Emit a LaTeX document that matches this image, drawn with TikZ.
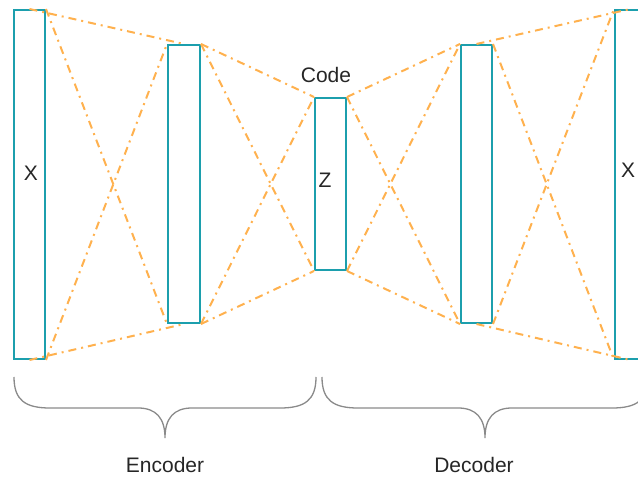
\documentclass[tikz,border=0pt]{standalone}
\usepackage{fontspec}
\setmainfont{Liberation Sans}
\definecolor{layerteal}{HTML}{1C9FAD}
\definecolor{linkorange}{HTML}{FFB14E}
\definecolor{bracegray}{HTML}{8A8A8A}
\begin{document}
\begin{tikzpicture}[x=1pt,y=-1pt,
  layer/.style={draw=layerteal, line width=2pt, fill=none, inner sep=0pt},
  link/.style={draw=linkorange, line width=2pt,
    dash pattern=on 8pt off 5pt on 2pt off 5pt},
  brace/.style={draw=bracegray, line width=1.3pt},
  lbl/.style={font=\fontsize{21}{25}\selectfont, text=black!85, inner sep=0pt}]
\useasboundingbox (0,0) rectangle (638,478);
\clip (0,0) rectangle (638,478);

% layers of the network
\node[layer, minimum width=31pt, minimum height=349pt] (r1) at (29.5,184.5) {};
\node[layer, minimum width=32pt, minimum height=278pt] (r2) at (184,184) {};
\node[layer, minimum width=31pt, minimum height=172pt] (r3) at (330.5,184) {};
\node[layer, minimum width=31pt, minimum height=278pt] (r4) at (476.5,184) {};
\node[layer, minimum width=31pt, minimum height=349pt] (r5) at (630.5,184.5) {};

% labels
\node[lbl] (xin) at (31,173) {X};
\node[lbl] (zc) at (325,180) {Z};
\node[lbl] (xout) at (628,170) {X};
\node[lbl] (code) at (326,75) {Code};

% connections r1 -> r2
\draw[link] (r1.north) -- (r2.north);
\draw[link] (r1.south) -- (r2.south);
\draw[link] (r1.north east) -- (r2.south west);
\draw[link] (r1.south east) -- (r2.north west);
% connections r2 -> r3
\draw[link] (r2.north east) -- (r3.north west);
\draw[link] (r2.south east) -- (r3.south west);
\draw[link] (r2.north east) -- (r3.south west);
\draw[link] (r2.south east) -- (r3.north west);
% connections r3 -> r4
\draw[link] (r3.north east) -- (r4.north west);
\draw[link] (r3.south east) -- (r4.south west);
\draw[link] (r3.north east) -- (r4.south west);
\draw[link] (r3.south east) -- (r4.north west);
% connections r4 -> r5
\draw[link] (r4.north) -- (r5.north);
\draw[link] (r4.south) -- (r5.south);
\draw[link] (r4.north east) -- (r5.south west);
\draw[link] (r4.south east) -- (r5.north west);

% encoder brace
\draw[brace] (14,377) .. controls (14,400) and (25,408) .. (50,408) -- (138,408)
  .. controls (156,408) and (165,418) .. (165,438)
  .. controls (165,418) and (174,408) .. (192,408) -- (280,408)
  .. controls (305,408) and (316,400) .. (316,377);
% decoder brace
\draw[brace] (322,377) .. controls (322,400) and (333,408) .. (358,408) -- (458,408)
  .. controls (476,408) and (485,418) .. (485,438)
  .. controls (485,418) and (494,408) .. (512,408) -- (612,408)
  .. controls (637,408) and (648,400) .. (648,377);

\node[lbl] (enc) at (165,465) {Encoder};
\node[lbl] (dec) at (474,465) {Decoder};
\end{tikzpicture}
\end{document}
